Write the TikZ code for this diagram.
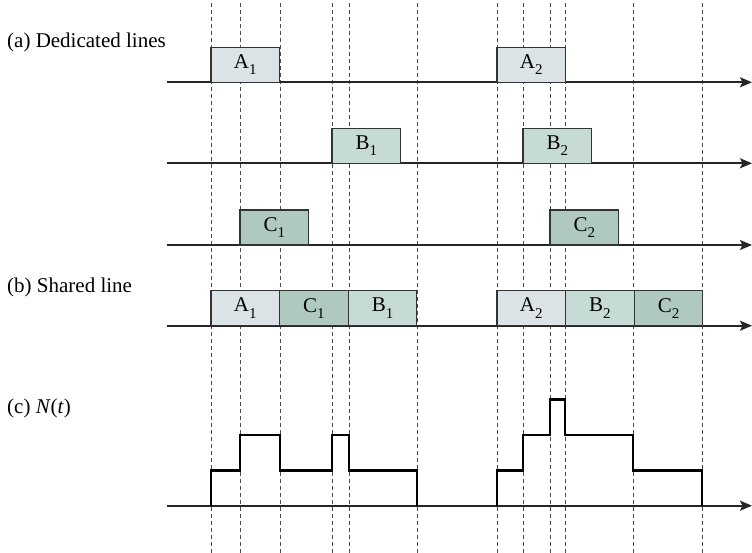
\documentclass[tikz,border=0pt]{standalone}
\usepackage{fontspec}
\setmainfont{Liberation Serif}
\usetikzlibrary{arrows.meta,positioning}
\definecolor{jobA}{RGB}{220,227,230}
\definecolor{jobB}{RGB}{198,218,214}
\definecolor{jobC}{RGB}{175,201,193}
\newcommand{\lowidx}[1]{\raisebox{-0.3em}{\fontsize{15}{15}\selectfont #1}}

\begin{document}
\begin{tikzpicture}[x=1pt, y=-1pt,
  job/.style={draw=black!80, line width=1.2pt, minimum width=68.6pt, minimum height=35pt,
              inner sep=0pt, outer sep=0pt, anchor=south west, font=\fontsize{21}{23}\selectfont},
  jobA/.style={job, fill=jobA},
  jobB/.style={job, fill=jobB},
  jobC/.style={job, fill=jobC},
  axis/.style={-{Stealth[length=12pt, width=10pt, inset=2.5pt]}, line width=1.7pt, draw=black!85},
  tick/.style={draw=black!70, line width=0.7pt, dash pattern=on 4pt off 3pt},
  lbl/.style={anchor=west, inner sep=0pt, font=\fontsize{21}{23}\selectfont},
  count/.style={line width=2.6pt, line join=miter}]
  \useasboundingbox (0,0) rectangle (752,553);

  % event times
  \foreach \x in {211,240,280,332,349,417,497,523,550,565,633,702}
    \draw[tick] (\x,3) -- (\x,553);

  % time axes
  \foreach \name/\y in {la/82.3, lb/163.3, lc/245, ls/325.7, ln/505.7} {
    \coordinate (\name0) at (166.7,\y);
    \coordinate (\name1) at (752,\y);
    \draw[axis] (\name0) -- (\name1);
  }

  % (a) dedicated lines
  \node[lbl] (tA) at (7,42) {(a) Dedicated lines};
  \node[jobA] (a1) at (211,82.3) {A\lowidx{1}};
  \node[jobA] (a2) at (497,82.3) {A\lowidx{2}};
  \node[jobB] (b1) at (332,163.3) {B\lowidx{1}};
  \node[jobB] (b2) at (523,163.3) {B\lowidx{2}};
  \node[jobC] (c1) at (240,245) {C\lowidx{1}};
  \node[jobC] (c2) at (550,245) {C\lowidx{2}};

  % (b) shared line
  \node[lbl] (tB) at (7,287) {(b) Shared line};
  \node[jobA] (sa1) at (211,325.7) {A\lowidx{1}};
  \node[jobC, right=0pt of sa1] (sc1) {C\lowidx{1}};
  \node[jobB, right=0pt of sc1] (sb1) {B\lowidx{1}};
  \node[jobA] (sa2) at (497,325.7) {A\lowidx{2}};
  \node[jobB, right=0pt of sa2] (sb2) {B\lowidx{2}};
  \node[jobC, right=0pt of sb2] (sc2) {C\lowidx{2}};

  % (c) number of active sources
  \node[lbl] (tC) at (7,408) {(c) \textit{N}(\textit{t})};
  \draw[count] (211,505.7) -- (211,470.4) -- (240,470.4) -- (240,435) -- (280,435)
    -- (280,470.4) -- (332,470.4) -- (332,435) -- (349,435) -- (349,470.4)
    -- (417,470.4) -- (417,505.7);
  \draw[count] (497,505.7) -- (497,470.4) -- (523,470.4) -- (523,435) -- (550,435)
    -- (550,399.5) -- (565,399.5) -- (565,435) -- (633,435) -- (633,470.4)
    -- (702,470.4) -- (702,505.7);
\end{tikzpicture}
\end{document}
